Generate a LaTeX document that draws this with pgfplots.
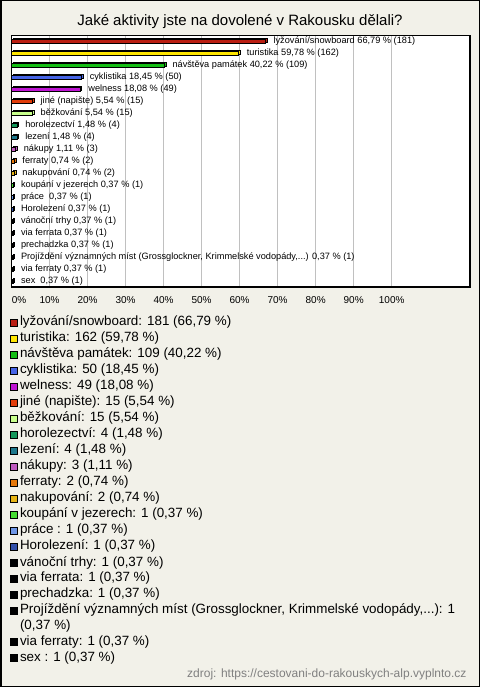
\documentclass[border=0pt]{standalone}
\usepackage{pgfplots}
\pgfplotsset{compat=1.18}
\usepackage{fontspec}
\setmainfont{Liberation Sans}
\definecolor{bg}{RGB}{242,241,233}
\definecolor{gridc}{RGB}{192,192,192}
\definecolor{foot}{RGB}{128,128,128}
\definecolor{c1}{RGB}{186,30,18}
\definecolor{c2}{RGB}{255,230,0}
\definecolor{c3}{RGB}{20,190,20}
\definecolor{c4}{RGB}{70,100,230}
\definecolor{c5}{RGB}{190,20,210}
\definecolor{c6}{RGB}{225,60,10}
\definecolor{c7}{RGB}{200,255,140}
\definecolor{c8}{RGB}{20,150,90}
\definecolor{c9}{RGB}{30,120,140}
\definecolor{c10}{RGB}{190,90,190}
\definecolor{c11}{RGB}{230,120,10}
\definecolor{c12}{RGB}{230,180,20}
\definecolor{c13}{RGB}{70,220,50}
\definecolor{c14}{RGB}{110,150,230}
\definecolor{c15}{RGB}{50,80,170}
\definecolor{c16}{RGB}{0,0,0}
\makeatletter
\tikzset{nopre/.code={\let\tikz@preactions\pgfutil@empty}}
\makeatother
\pgfplotsset{b/.style={fill=#1,
  preaction={fill=#1, draw=black, line width=0.6pt, transform canvas={shift={(1.5pt,1.5pt)}}},
  legend image code/.code={\draw[nopre, fill=#1, draw=black, line width=0.5pt] (0pt,-0.5pt) rectangle (7pt,6.5pt);}}}
\begin{document}
\begin{tikzpicture}
\draw[line width=1.5pt, fill=bg] (0.75pt,-0.75pt) rectangle (479.25pt,-686.25pt);
\node[anchor=base, font=\fontsize{15}{18}\selectfont] at (240pt,-26pt) {Jaké aktivity jste na dovolené v Rakousku dělali?};
\begin{axis}[
  at={(11.5pt,-35.7pt)}, anchor=north west,
  scale only axis, width=458.5pt, height=251.3pt,
  xbar, bar width=4.3pt,
  xmin=0, xmax=120.6, ymin=-0.5, ymax=20.44,
  axis background/.style={fill=white},
  axis line style={line width=1.1pt, black},
  xmajorgrids, major grid style={draw=gridc, line width=0.8pt},
  xtick={0,10,...,100},
  xticklabels={\hspace*{15pt}0\%,10\%,20\%,30\%,40\%,50\%,60\%,70\%,80\%,90\%,100\%},
  xticklabel style={font=\fontsize{10}{12}\selectfont, yshift=-6pt},
  major tick length=0pt,
  ytick=\empty,
  every axis plot/.append style={bar shift=-0.6pt, draw=black, line width=0.6pt},
  nodes near coords style={font=\fontsize{9.2}{10}\selectfont, anchor=west, xshift=4.5pt, yshift=0.6pt, text=black},
  legend style={at={(axis description cs:0,0)}, anchor=north west, xshift=-1.5pt, yshift=-27.4pt,
    draw=none, fill=none, inner sep=0pt, outer sep=0pt, row sep=0pt,
    font=\fontsize{13.4}{15}\selectfont,
    cells={anchor=base west},
    nodes={inner xsep=2.5pt, inner ysep=1.7pt, text depth={}}},
  clip=false,
]
\addplot[b=c1, nodes near coords={{lyžování/snowboard 66,79 \% (181)}}] coordinates {(66.79,20)};
\addlegendentry{lyžování/snowboard: 181 (66,79 \%)}
\addplot[b=c2, nodes near coords={{turistika 59,78 \% (162)}}] coordinates {(59.78,19)};
\addlegendentry{turistika: 162 (59,78 \%)}
\addplot[b=c3, nodes near coords={{návštěva památek 40,22 \% (109)}}] coordinates {(40.22,18)};
\addlegendentry{návštěva památek: 109 (40,22 \%)}
\addplot[b=c4, nodes near coords={{cyklistika 18,45 \% (50)}}] coordinates {(18.45,17)};
\addlegendentry{cyklistika: 50 (18,45 \%)}
\addplot[b=c5, nodes near coords={{welness 18,08 \% (49)}}] coordinates {(18.08,16)};
\addlegendentry{welness: 49 (18,08 \%)}
\addplot[b=c6, nodes near coords={{jiné (napište) 5,54 \% (15)}}] coordinates {(5.54,15)};
\addlegendentry{jiné (napište): 15 (5,54 \%)}
\addplot[b=c7, nodes near coords={{běžkování 5,54 \% (15)}}] coordinates {(5.54,14)};
\addlegendentry{běžkování: 15 (5,54 \%)}
\addplot[b=c8, nodes near coords={{horolezectví 1,48 \% (4)}}] coordinates {(1.48,13)};
\addlegendentry{horolezectví: 4 (1,48 \%)}
\addplot[b=c9, nodes near coords={{lezení 1,48 \% (4)}}] coordinates {(1.48,12)};
\addlegendentry{lezení: 4 (1,48 \%)}
\addplot[b=c10, nodes near coords={{nákupy 1,11 \% (3)}}] coordinates {(1.11,11)};
\addlegendentry{nákupy: 3 (1,11 \%)}
\addplot[b=c11, nodes near coords={{ferraty 0,74 \% (2)}}] coordinates {(0.74,10)};
\addlegendentry{ferraty: 2 (0,74 \%)}
\addplot[b=c12, nodes near coords={{nakupování 0,74 \% (2)}}] coordinates {(0.74,9)};
\addlegendentry{nakupování: 2 (0,74 \%)}
\addplot[b=c13, nodes near coords={{koupání v jezerech 0,37 \% (1)}}] coordinates {(0.37,8)};
\addlegendentry{koupání v jezerech: 1 (0,37 \%)}
\addplot[b=c14, nodes near coords={{práce\ \ 0,37 \% (1)}}] coordinates {(0.37,7)};
\addlegendentry{práce : 1 (0,37 \%)}
\addplot[b=c15, nodes near coords={{Horolezení 0,37 \% (1)}}] coordinates {(0.37,6)};
\addlegendentry{Horolezení: 1 (0,37 \%)}
\addplot[b=c16, nodes near coords={{vánoční trhy 0,37 \% (1)}}] coordinates {(0.37,5)};
\addlegendentry{vánoční trhy: 1 (0,37 \%)}
\addplot[b=c16, nodes near coords={{via ferrata 0,37 \% (1)}}] coordinates {(0.37,4)};
\addlegendentry{via ferrata: 1 (0,37 \%)}
\addplot[b=c16, nodes near coords={{prechadzka 0,37 \% (1)}}] coordinates {(0.37,3)};
\addlegendentry{prechadzka: 1 (0,37 \%)}
\addplot[b=c16, nodes near coords={{Projíždění významných míst (Grossglockner, Krimmelské vodopády,...) 0,37 \% (1)}}] coordinates {(0.37,2)};
\addlegendentry{\vtop{\baselineskip=15.5pt\hbox{Projíždění významných míst (Grossglockner, Krimmelské vodopády,...): 1}\hbox{(0,37 \%)}}}
\addplot[b=c16, nodes near coords={{via ferraty 0,37 \% (1)}}] coordinates {(0.37,1)};
\addlegendentry{via ferraty: 1 (0,37 \%)}
\addplot[b=c16, nodes near coords={{sex\ \ 0,37 \% (1)}}] coordinates {(0.37,0)};
\addlegendentry{sex : 1 (0,37 \%)}
\end{axis}
\node[anchor=base east, text=foot, font=\fontsize{12}{14}\selectfont] at (470pt,-677.6pt) {zdroj: https://cestovani-do-rakouskych-alp.vyplnto.cz};
\pgfresetboundingbox
\path (0pt,0pt) rectangle (480pt,-687pt);
\end{tikzpicture}
\end{document}
